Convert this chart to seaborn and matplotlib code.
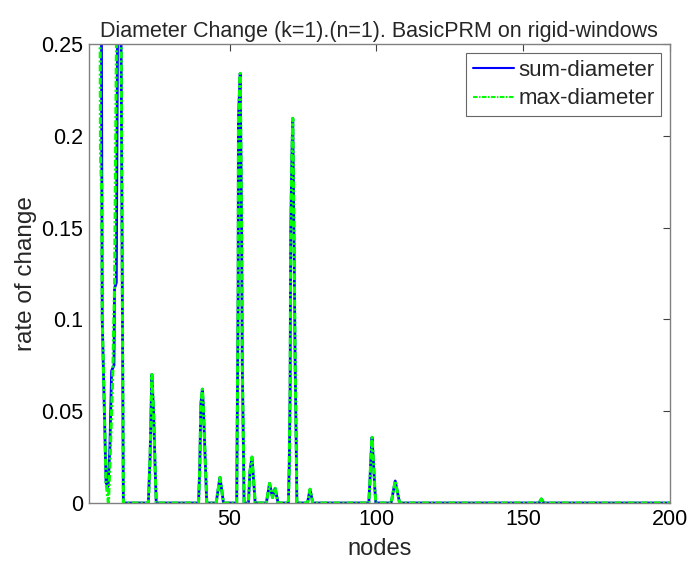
import matplotlib
matplotlib.use("Agg")
import matplotlib.pyplot as plt
import seaborn as sns
import numpy as np
import pandas as pd
from matplotlib.ticker import FuncFormatter

# ---- data ----
# sum-diameter: points where the curve changes (flat zero between spikes)
sum_nodes = [2, 6.0, 6.6, 7.4, 7.9, 8.6, 9.2, 9.8, 10.6, 10.8, 11.4, 12.4, 13.8,
             22.3, 22.9, 23.5, 24.1, 24.6, 25.0,
             39.4, 39.8, 40.2, 40.7, 41.0, 41.6, 42.2,
             45.4, 46.7, 47.9,
             52.4, 52.7, 52.9, 53.0, 53.6, 54.1, 54.3, 54.7, 54.9,
             56.4, 56.9, 57.6, 58.7,
             62.5, 63.6, 64.6, 65.5, 66.5,
             70.0, 70.3, 70.6, 70.7, 70.8, 71.2, 71.5, 72.0, 72.3, 72.7, 72.9,
             76.5, 77.4, 78.3,
             97.4, 97.8, 98.1, 98.5, 99.0, 99.4, 99.8,
             105.0, 106.4, 107.9,
             155.4, 156.2, 157.0,
             200]
sum_rate = [0.9, 0.45, 0.10, 0.045, 0.011, 0.009, 0.03, 0.072, 0.075, 0.117, 0.12, 0.45, 0.0,
            0.0, 0.025, 0.070, 0.049, 0.020, 0.0,
            0.0, 0.018, 0.054, 0.062, 0.054, 0.027, 0.0,
            0.0, 0.014, 0.0,
            0.0, 0.069, 0.116, 0.210, 0.234, 0.145, 0.076, 0.029, 0.0,
            0.0, 0.017, 0.025, 0.0,
            0.0, 0.0107, 0.003, 0.008, 0.0,
            0.0, 0.020, 0.062, 0.103, 0.147, 0.189, 0.2095, 0.131, 0.078, 0.029, 0.0,
            0.0, 0.0075, 0.0,
            0.0, 0.0125, 0.024, 0.0358, 0.0218, 0.009, 0.0,
            0.0, 0.012, 0.0,
            0.0, 0.0022, 0.0,
            0.0]

# max-diameter: differs only in the first spikes
max_nodes = [2, 5.5, 6.0, 6.4, 6.6, 7.4, 7.9, 8.7, 9.2, 10.2, 10.8, 12.4, 13.8] + sum_nodes[13:]
max_rate = [0.9, 0.5, 0.19, 0.17, 0.10, 0.045, 0.011, 0.0, 0.02, 0.071, 0.118, 0.45, 0.0] + sum_rate[13:]

x_ticks = [50, 100, 150, 200]
y_ticks = [0, 0.05, 0.1, 0.15, 0.2, 0.25]
title = "Diameter Change (k=1).(n=1). BasicPRM on rigid-windows"

# ---- plotting ----
sns.set_style("white")
plt.rcParams['font.family'] = ['Liberation Sans', 'DejaVu Sans']

fig = plt.figure(figsize=(6.91, 5.61), dpi=100)
ax = fig.add_axes([0.1284, 0.1034, 0.9696 - 0.1284, 0.9216 - 0.1034])

df_sum = pd.DataFrame({"nodes": sum_nodes, "rate": sum_rate})
df_max = pd.DataFrame({"nodes": max_nodes, "rate": max_rate})

sns.lineplot(data=df_sum, x="nodes", y="rate", ax=ax, color=(0, 0, 1), lw=2.0,
             sort=False, estimator=None, label="sum-diameter")
sns.lineplot(data=df_max, x="nodes", y="rate", ax=ax, color=(0, 1, 0), lw=2.2,
             sort=False, estimator=None, label="max-diameter")
ax.lines[1].set_dashes((2.2, 0.7, 0.7, 0.7))

ax.set_xlim(2, 200)
ax.set_ylim(0, 0.25)
ax.set_xticks(x_ticks)
ax.set_yticks(y_ticks)
ax.yaxis.set_major_formatter(FuncFormatter(lambda v, p: "%g" % v))

for s in ax.spines.values():
    s.set_visible(True)
    s.set_color("#808080")
    s.set_linewidth(1.0)
ax.tick_params(direction="in", length=5, width=0.8, color="#404040",
               top=True, right=True, labelsize=15.5, labelcolor="black", pad=4)

ax.set_xlabel("nodes", fontsize=17, labelpad=6)
ax.set_ylabel("rate of change", fontsize=17.5, labelpad=3)
ax.set_title(title, fontsize=15.5, pad=5)

leg = ax.legend(loc="upper right", fontsize=16, frameon=True, fancybox=False,
                handlelength=1.85, borderpad=0.3, labelspacing=0.35, handletextpad=0.2,
                borderaxespad=0.4)
leg.get_frame().set_edgecolor("#404040")
leg.get_frame().set_linewidth(0.8)
for h in leg.get_lines():
    h.set_linewidth(1.5)

fig.savefig("out.png", dpi=100, facecolor="white")
